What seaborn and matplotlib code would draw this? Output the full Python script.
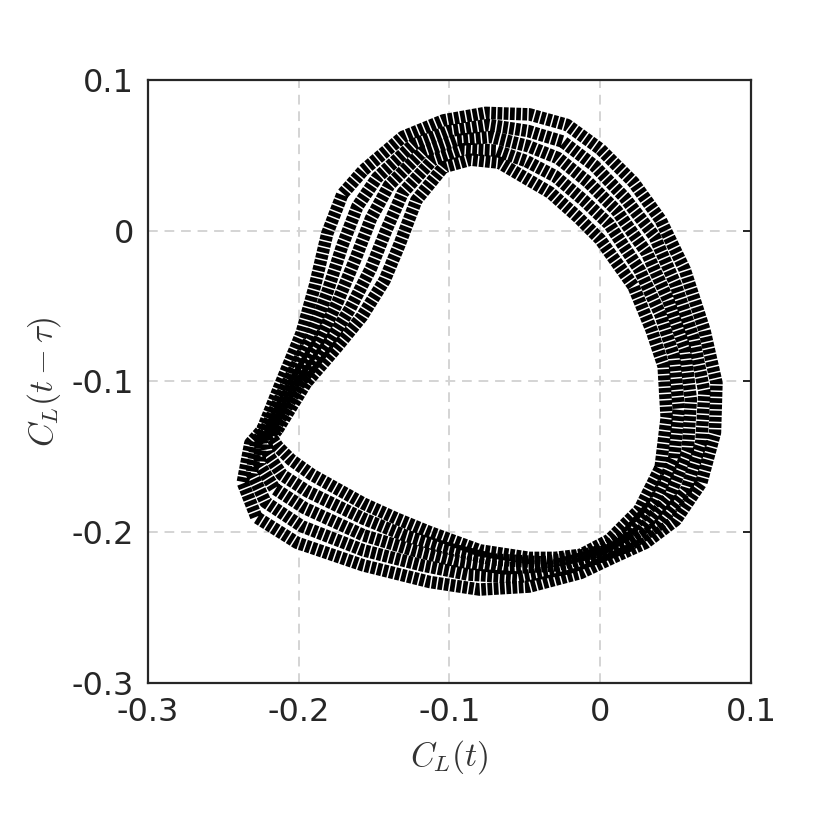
import pandas as pd
import matplotlib
matplotlib.use("Agg")
import matplotlib.pyplot as plt
import seaborn as sns

# Phase portrait: C_L(t) vs C_L(t - tau), five loops of the trajectory
outer_x = [-0.224, -0.212, -0.198, -0.189, -0.181, -0.171, -0.157, -0.131, -0.104, -0.076, -0.047, -0.022,
           0.000, 0.022, 0.040, 0.056, 0.069, 0.077, 0.076, 0.067, 0.050, 0.030, 0.008, -0.013,
           -0.047, -0.080, -0.113, -0.157, -0.201, -0.228, -0.237, -0.232]
outer_y = [-0.132, -0.102, -0.068, -0.036, -0.002, 0.024, 0.040, 0.062, 0.073, 0.078, 0.077, 0.070,
           0.054, 0.032, 0.007, -0.026, -0.066, -0.101, -0.134, -0.167, -0.192, -0.207, -0.217, -0.227,
           -0.236, -0.238, -0.233, -0.222, -0.207, -0.190, -0.167, -0.141]

q1_x = [-0.222, -0.208, -0.192, -0.181, -0.171, -0.161, -0.148, -0.124, -0.100, -0.074, -0.048, -0.025,
        -0.004, 0.016, 0.036, 0.050, 0.062, 0.069, 0.067, 0.057, 0.039, 0.019, -0.002, -0.022,
        -0.055, -0.088, -0.118, -0.157, -0.198, -0.222, -0.231, -0.228]
q1_y = [-0.132, -0.102, -0.071, -0.041, -0.010, 0.016, 0.035, 0.057, 0.066, 0.070, 0.066, 0.059,
        0.043, 0.022, -0.004, -0.036, -0.072, -0.107, -0.140, -0.172, -0.195, -0.209, -0.217, -0.224,
        -0.230, -0.228, -0.222, -0.212, -0.196, -0.180, -0.161, -0.140]

mid_x = [-0.219, -0.204, -0.187, -0.174, -0.162, -0.152, -0.140, -0.118, -0.095, -0.072, -0.048, -0.028,
         -0.008, 0.011, 0.031, 0.045, 0.056, 0.060, 0.058, 0.046, 0.028, 0.008, -0.011, -0.030,
         -0.064, -0.096, -0.124, -0.157, -0.196, -0.216, -0.226, -0.225]
mid_y = [-0.132, -0.102, -0.074, -0.047, -0.018, 0.008, 0.030, 0.052, 0.060, 0.062, 0.056, 0.048,
         0.032, 0.013, -0.015, -0.046, -0.078, -0.112, -0.146, -0.176, -0.198, -0.211, -0.217, -0.222,
         -0.224, -0.219, -0.212, -0.202, -0.184, -0.171, -0.155, -0.139]

q3_x = [-0.216, -0.199, -0.181, -0.166, -0.152, -0.142, -0.131, -0.111, -0.090, -0.069, -0.049, -0.030,
        -0.011, 0.006, 0.026, 0.040, 0.049, 0.052, 0.049, 0.036, 0.017, -0.002, -0.020, -0.038,
        -0.072, -0.104, -0.130, -0.157, -0.194, -0.211, -0.220, -0.222]
q3_y = [-0.132, -0.101, -0.076, -0.052, -0.025, 0.000, 0.025, 0.047, 0.054, 0.053, 0.046, 0.036,
        0.020, 0.004, -0.026, -0.056, -0.084, -0.118, -0.151, -0.180, -0.202, -0.213, -0.217, -0.220,
        -0.218, -0.210, -0.202, -0.191, -0.173, -0.162, -0.149, -0.138]

inner_x = [-0.214, -0.195, -0.176, -0.158, -0.143, -0.133, -0.122, -0.104, -0.086, -0.067, -0.050, -0.033,
           -0.015, 0.000, 0.022, 0.034, 0.042, 0.044, 0.040, 0.026, 0.006, -0.013, -0.030, -0.047,
           -0.080, -0.113, -0.135, -0.157, -0.191, -0.205, -0.214, -0.218]
inner_y = [-0.132, -0.101, -0.079, -0.057, -0.033, -0.009, 0.020, 0.042, 0.047, 0.045, 0.035, 0.025,
           0.009, -0.006, -0.037, -0.066, -0.090, -0.124, -0.157, -0.185, -0.205, -0.215, -0.217, -0.217,
           -0.212, -0.200, -0.191, -0.181, -0.162, -0.152, -0.143, -0.137]

loops = {"outer": (outer_x, outer_y), "q1": (q1_x, q1_y), "mid": (mid_x, mid_y),
         "q3": (q3_x, q3_y), "inner": (inner_x, inner_y)}

rows = []
for name, (xs, ys) in loops.items():
    # close each loop by returning to its first point
    for i, (x, y) in enumerate(list(zip(xs, ys)) + [(xs[0], ys[0])]):
        rows.append({"loop": name, "order": i, "CL_t": x, "CL_lag": y})
df = pd.DataFrame(rows)

sns.set_style("white")
plt.rcParams["font.family"] = ["DejaVu Sans"]
plt.rcParams["mathtext.fontset"] = "cm"

fig = plt.figure(figsize=(8.3, 8.3), dpi=100)
ax = fig.add_axes([0.178, 0.177, 0.727, 0.727])

for name in loops:
    sub = df[df["loop"] == name]
    sns.lineplot(data=sub, x="CL_t", y="CL_lag", sort=False, estimator=None,
                 color="black", lw=9, ax=ax, legend=False)
    line = ax.lines[-1]
    # thick dotted line -> rows of short ticks, like the original
    line.set_dashes((0.38, 0.12))
    line.set_dash_capstyle("butt")
    line.set_dash_joinstyle("round")

ticks = [-0.3, -0.2, -0.1, 0, 0.1]
tick_labels = ["-0.3", "-0.2", "-0.1", "0", "0.1"]
ax.set_xlim(-0.3, 0.1)
ax.set_ylim(-0.3, 0.1)
ax.set_xticks(ticks)
ax.set_xticklabels(tick_labels)
ax.set_yticks(ticks)
ax.set_yticklabels(tick_labels)
ax.set_aspect("equal")

ax.grid(True, color="#d4d4d4", linestyle=(0, (5, 3.5)), linewidth=1.4)
ax.set_axisbelow(True)
for s in ax.spines.values():
    s.set_visible(True)
    s.set_color("#262626")
    s.set_linewidth(1.6)

ax.tick_params(direction="in", length=6, width=1.4, colors="#262626",
               labelsize=23, right=True, top=False, pad=10)

ax.set_xlabel(r"$C_L(t)$", fontsize=24, color="#333333", labelpad=7)
ax.set_ylabel(r"$C_L(t-\tau)$", fontsize=24, color="#333333", labelpad=6)

fig.savefig("out.png", dpi=100, facecolor="white")
